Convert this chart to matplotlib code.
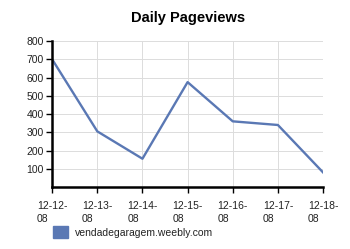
import matplotlib
matplotlib.use("Agg")
import matplotlib.pyplot as plt
from matplotlib.patches import Patch

plt.rcParams["font.family"] = ["Liberation Sans", "DejaVu Sans"]

# data
dates = ["12-12-\n08", "12-13-\n08", "12-14-\n08", "12-15-\n08",
         "12-16-\n08", "12-17-\n08", "12-18-\n08"]
pageviews = [700, 305, 155, 575, 360, 340, 80]
yticks = [100, 200, 300, 400, 500, 600, 700, 800]
series_name = "vendadegaragem.weebly.com"
line_color = "#5a78b4"

fig = plt.figure(figsize=(3.5, 2.49), dpi=100)
ax = fig.add_axes([0.149, 0.249, 0.774, 0.586])

x = list(range(len(dates)))
ax.plot(x, pageviews, color=line_color, lw=1.7, solid_joinstyle="round")

ax.set_xlim(0, len(dates) - 1)
ax.set_ylim(0, 800)
ax.set_xticks(x)
ax.set_xticklabels(dates, fontsize=7.5, color="#222222",
                   multialignment="left", linespacing=1.35)
ax.set_yticks(yticks)
ax.set_yticklabels([str(v) for v in yticks], fontsize=7.5, color="#222222")

ax.grid(True, color="#dcdcdc", lw=0.7)
ax.set_axisbelow(True)
for s in ["top", "right"]:
    ax.spines[s].set_visible(False)
for s in ["left", "bottom"]:
    ax.spines[s].set_linewidth(1.8)
    ax.spines[s].set_color("black")
ax.tick_params(direction="out", length=4, width=1, color="black", pad=2)
ax.tick_params(axis="x", pad=6)

# title is centred over the plot area
fig.text(0.536, 0.926, "Daily Pageviews", ha="center", va="center",
         fontsize=10.5, fontweight="bold")

fig.legend(handles=[Patch(color=line_color, label=series_name)],
           loc="center left", bbox_to_anchor=(0.125, 0.068), frameon=False,
           fontsize=7.5, handlelength=1.45, handleheight=1.45, handletextpad=0.6,
           labelcolor="#222222")

fig.savefig("out.png", dpi=100)
